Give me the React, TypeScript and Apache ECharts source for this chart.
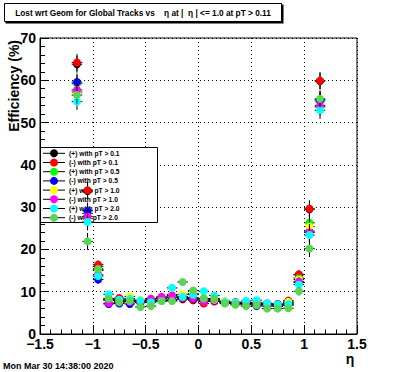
import React, { useEffect, useRef } from "react";
import * as echarts from "echarts";

const etaBins = [-1.15, -1.05, -0.95, -0.85, -0.75, -0.65, -0.55, -0.45, -0.35, -0.25, -0.15, -0.05,
  0.05, 0.15, 0.25, 0.35, 0.45, 0.55, 0.65, 0.75, 0.85, 0.95, 1.05, 1.15];

const seriesNames = [
  "(+) with pT > 0.1", "(-) with pT > 0.1", "(+) with pT > 0.5", "(-) with pT > 0.5",
  "(+) with pT > 1.0", "(-) with pT > 1.0", "(+) with pT > 2.0", "(-) with pT > 2.0",
];
const seriesColors = ["#000000", "#ff0000", "#00ff00", "#0000ff", "#ffff00", "#ff00ff", "#00ffff", "#59d454"];

const posPt01 = [63.8, 33.8, 16.0, 8.2, 8.0, 8.3, 7.6, 8.0, 8.3, 8.2, 8.2, 8.0, 7.8, 8.0, 7.6, 7.5, 7.4, 7.3, 7.2, 7.1, 7.5, 14.0, 29.5, 59.8];
const negPt01 = [64.2, 34.0, 16.4, 8.0, 8.5, 7.8, 7.9, 7.6, 7.9, 8.0, 8.4, 8.1, 7.2, 7.7, 7.5, 7.4, 7.2, 7.3, 7.0, 6.9, 7.9, 14.1, 29.6, 59.9];
const posPt05 = [59.2, 28.5, 15.2, 8.4, 7.6, 8.0, 7.8, 8.4, 8.5, 8.8, 8.8, 8.6, 8.4, 8.2, 7.6, 7.3, 7.2, 7.1, 6.9, 6.8, 7.0, 13.2, 26.3, 55.4];
const negPt05 = [59.6, 29.1, 12.9, 7.1, 7.2, 7.1, 7.4, 7.8, 8.4, 8.6, 8.6, 8.4, 7.8, 7.9, 7.5, 7.3, 7.0, 6.6, 7.0, 6.9, 7.3, 12.2, 24.3, 55.1];
const posPt10 = [57.2, 27.3, 15.0, 8.0, 7.9, 8.9, 8.0, 8.2, 8.6, 9.3, 9.4, 9.6, 8.1, 8.1, 7.8, 7.4, 7.3, 7.4, 6.9, 6.9, 7.6, 12.9, 25.4, 53.7];
const negPt10 = [57.7, 27.8, 14.0, 7.3, 7.8, 7.6, 7.5, 8.3, 8.8, 9.1, 8.6, 8.5, 7.7, 8.3, 7.4, 7.2, 7.2, 7.0, 6.6, 6.5, 6.8, 12.4, 24.0, 54.0];
const posPt20 = [55.0, 26.5, 13.7, 9.4, 8.1, 8.3, 7.9, 7.5, 7.8, 10.9, 8.8, 9.3, 10.1, 9.1, 7.6, 7.4, 7.8, 8.0, 7.3, 7.0, 7.1, 11.7, 23.4, 52.9];
const negPt20 = [56.5, 21.9, 15.4, 8.3, 7.5, 7.8, 6.4, 6.6, 7.8, 7.8, 12.3, 10.3, 8.4, 8.4, 7.2, 6.9, 6.6, 6.8, 6.0, 6.0, 6.1, 10.1, 20.2, 55.6];
const seriesValues = [posPt01, negPt01, posPt05, negPt05, posPt10, negPt10, posPt20, negPt20];

const binErrors = [2.0, 2.0, 1.0, 0.5, 0.5, 0.5, 0.5, 0.5, 0.5, 0.5, 0.5, 0.5,
  0.5, 0.5, 0.5, 0.5, 0.5, 0.5, 0.5, 0.5, 0.5, 1.0, 2.0, 2.0];
const halfBin = 0.05;

const titleText = "Lost wrt Geom for Global Tracks vs    \u03b7 at |  \u03b7 | <= 1.0 at pT > 0.11";
const dateText = "Mon Mar 30 14:38:00 2020";
const yTitle = "Efficiency (%)";
const xTitle = "\u03b7";

const FONT = "'Liberation Sans', Arial, Helvetica, sans-serif";

export default function App() {
  const ref = useRef<HTMLDivElement>(null);
  useEffect(() => {
    if (!ref.current) return;
    const chart = echarts.init(ref.current, null, { renderer: "svg" });
    const series: any[] = [];
    seriesValues.forEach((vals, si) => {
      series.push({
        type: "custom",
        name: seriesNames[si] + " err",
        data: etaBins.map((x, i) => [x, vals[i], binErrors[i]]),
        z: 3 + si * 2,
        silent: true,
        renderItem: (params: any, api: any) => {
          const x = api.value(0), y = api.value(1), e = api.value(2);
          const lo = api.coord([x, y - e]);
          const hi = api.coord([x, y + e]);
          const l = api.coord([x - halfBin, y]);
          const r = api.coord([x + halfBin, y]);
          const st = { stroke: "#000", lineWidth: 1 };
          return {
            type: "group",
            children: [
              { type: "line", shape: { x1: lo[0], y1: lo[1], x2: hi[0], y2: hi[1] }, style: st },
              { type: "line", shape: { x1: l[0], y1: l[1], x2: r[0], y2: r[1] }, style: st },
            ],
          };
        },
      });
      series.push({
        type: "scatter",
        name: seriesNames[si],
        data: etaBins.map((x, i) => [x, vals[i]]),
        symbol: "circle",
        symbolSize: 8,
        itemStyle: { color: seriesColors[si], opacity: 1 },
        z: 4 + si * 2,
      });
    });

    const legendTop = 153.3;
    const legendGap = 9.2;
    const legendEls: any[] = [
      { type: "rect", shape: { x: 40.5, y: 147.5, width: 117, height: 75 }, style: { fill: "#fff", stroke: "#000", lineWidth: 1 }, z: 1 },
    ];
    seriesNames.forEach((name, i) => {
      const y = legendTop + i * legendGap;
      legendEls.push({ type: "line", shape: { x1: 43, y1: y, x2: 65, y2: y }, style: { stroke: "#000", lineWidth: 1 }, z: 1.2 });
      legendEls.push({ type: "circle", shape: { cx: 54, cy: y, r: 4 }, style: { fill: seriesColors[i] }, z: 1.4 });
      legendEls.push({ type: "text", x: 69, y, style: { text: name, fill: "#000", font: `bold 6.7px ${FONT}`, verticalAlign: "middle", align: "left" }, z: 1.4 });
    });

    chart.setOption({
      animation: false,
      backgroundColor: "#fff",
      grid: { left: 40, top: 38, right: 39, bottom: 38, show: true, borderColor: "#000", borderWidth: 1, backgroundColor: "transparent" },
      xAxis: {
        type: "value", min: -1.5, max: 1.5, interval: 0.5,
        axisLine: { show: true, onZero: false, lineStyle: { color: "#000", width: 1 } },
        axisTick: { show: true, inside: true, length: 9, lineStyle: { color: "#000" } },
        minorTick: { show: true, splitNumber: 5, length: 4.5, lineStyle: { color: "#000" } },
        splitLine: { show: true, lineStyle: { color: "#000", type: [1, 3], width: 1 } },
        axisLabel: { color: "#000", fontFamily: FONT, fontWeight: "bold", fontSize: 14, margin: 3,
          formatter: (v: number) => String(v).replace("-", "\u2212") },
      },
      yAxis: {
        type: "value", min: 0, max: 70, interval: 10,
        axisLine: { show: true, onZero: false, lineStyle: { color: "#000", width: 1 } },
        axisTick: { show: true, inside: true, length: 9, lineStyle: { color: "#000" } },
        minorTick: { show: true, splitNumber: 5, length: 5, lineStyle: { color: "#000" } },
        splitLine: { show: true, lineStyle: { color: "#000", type: [1, 3], width: 1 } },
        axisLabel: { color: "#000", fontFamily: FONT, fontWeight: "bold", fontSize: 14, margin: 4 },
      },
      series,
      graphic: [
        { type: "rect", shape: { x: 5.5, y: 4.5, width: 278, height: 19 }, style: { fill: "#000" }, z: 100 },
        { type: "rect", shape: { x: 4.5, y: 3.5, width: 277, height: 18 }, style: { fill: "#fff", stroke: "#000", lineWidth: 1 }, z: 101 },
        { type: "text", x: 143, y: 13, style: { text: titleText, fill: "#000", font: `bold 8.3px ${FONT}`, align: "center", verticalAlign: "middle" }, z: 102 },
        { type: "text", x: 14, y: 40, rotation: Math.PI / 2, style: { text: yTitle, fill: "#000", font: `bold 14px ${FONT}`, align: "right", verticalAlign: "middle" }, z: 102 },
        { type: "text", x: 350, y: 359, style: { text: xTitle, fill: "#000", font: `bold 14px ${FONT}`, align: "center", verticalAlign: "middle" }, z: 102 },
        { type: "text", x: 3, y: 366, style: { text: dateText, fill: "#000", font: `bold 9px ${FONT}`, align: "left", verticalAlign: "middle" }, z: 102 },
        ...legendEls,
      ],
    });
    return () => chart.dispose();
  }, []);
  return <div ref={ref} style={{ position: "fixed", left: 0, top: 0, width: 396, height: 372, background: "#fff" }} />;
}
